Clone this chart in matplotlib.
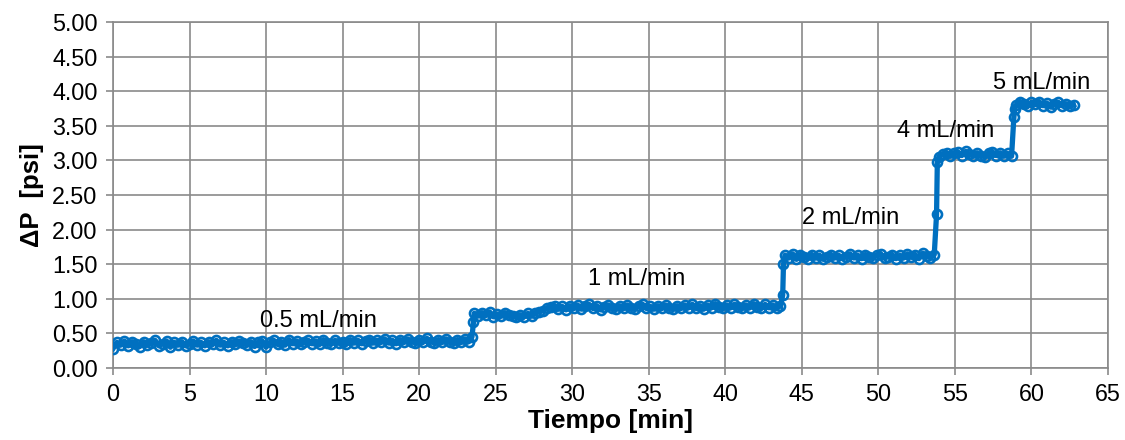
import numpy as np
import matplotlib
matplotlib.use("Agg")
import matplotlib.pyplot as plt

plt.rcParams['font.family'] = ['Liberation Sans', 'DejaVu Sans']

# ---- data (time in min, pressure drop in psi) ----
seg1_start, seg2_start, seg3_start, seg4_start, seg5_start = 0.0, 23.6, 43.9, 53.95, 59.0
step = 0.25

seg1_vals = [0.28, 0.37, 0.33, 0.39, 0.32, 0.38, 0.35, 0.31, 0.38, 0.33,
             0.36, 0.40, 0.32, 0.35, 0.39, 0.30, 0.37, 0.33, 0.38, 0.32,
             0.35, 0.39, 0.33, 0.37, 0.32, 0.38, 0.34, 0.40, 0.33, 0.37,
             0.32, 0.38, 0.34, 0.39, 0.36, 0.33, 0.38, 0.31, 0.37, 0.39,
             0.30, 0.37, 0.40, 0.34, 0.38, 0.33, 0.41, 0.35, 0.39, 0.34,
             0.37, 0.40, 0.35, 0.39, 0.34, 0.41, 0.36, 0.35, 0.40, 0.36,
             0.38, 0.35, 0.41, 0.36, 0.40, 0.35, 0.39, 0.41, 0.36, 0.40,
             0.37, 0.42, 0.36, 0.40, 0.35, 0.41, 0.37, 0.42, 0.38, 0.36,
             0.41, 0.37, 0.43, 0.38, 0.36, 0.41, 0.37, 0.42, 0.38, 0.36,
             0.41, 0.37, 0.42, 0.38]
jump1_t, jump1_v = [23.45, 23.55], [0.45, 0.66]

seg2_vals = [0.79, 0.75, 0.80, 0.76, 0.81, 0.74, 0.78, 0.75, 0.80, 0.76,
             0.75, 0.73, 0.77, 0.74, 0.79, 0.75, 0.80, 0.81, 0.83, 0.86,
             0.88, 0.90, 0.85, 0.89, 0.84, 0.90, 0.86, 0.91, 0.85, 0.89,
             0.92, 0.86, 0.90, 0.84, 0.88, 0.91, 0.86, 0.85, 0.90, 0.86,
             0.91, 0.87, 0.85, 0.90, 0.92, 0.86, 0.89, 0.85, 0.90, 0.86,
             0.91, 0.87, 0.85, 0.90, 0.86, 0.91, 0.87, 0.92, 0.86, 0.90,
             0.85, 0.91, 0.87, 0.93, 0.88, 0.86, 0.91, 0.87, 0.92, 0.88,
             0.86, 0.91, 0.87, 0.93, 0.88, 0.86, 0.92, 0.87, 0.91, 0.86,
             0.90]
jump2_t, jump2_v = [43.75, 43.8], [1.05, 1.50]

seg3_vals = [1.63, 1.59, 1.65, 1.57, 1.64, 1.60, 1.58, 1.64, 1.59, 1.63,
             1.57, 1.61, 1.64, 1.59, 1.63, 1.58, 1.61, 1.65, 1.59, 1.63,
             1.58, 1.64, 1.60, 1.59, 1.63, 1.65, 1.59, 1.61, 1.64, 1.58,
             1.63, 1.59, 1.65, 1.60, 1.64, 1.58, 1.66, 1.62, 1.59, 1.64]
jump3_t, jump3_v = [53.8, 53.85], [2.22, 2.97]

seg4_vals = [3.05, 3.09, 3.11, 3.06, 3.10, 3.12, 3.07, 3.13, 3.09, 3.06,
             3.11, 3.07, 3.05, 3.10, 3.12, 3.07, 3.11, 3.06, 3.10, 3.06]
jump4_t, jump4_v = [58.85, 58.9], [3.62, 3.74]

seg5_vals = [3.80, 3.85, 3.82, 3.78, 3.84, 3.81, 3.85, 3.79, 3.83, 3.77,
             3.81, 3.84, 3.79, 3.82, 3.78, 3.80]

labels = ["0.5 mL/min", "1 mL/min", "2 mL/min", "4 mL/min", "5 mL/min"]
label_x = [13.4, 34.2, 48.2, 54.4, 60.65]
label_y = [0.68, 1.29, 2.17, 3.42, 4.12]

x_ticks = list(range(0, 70, 5))
y_ticks = [0.0, 0.5, 1.0, 1.5, 2.0, 2.5, 3.0, 3.5, 4.0, 4.5, 5.0]


def seg_times(start, vals):
    return list(start + step * np.arange(len(vals)))


t = (seg_times(seg1_start, seg1_vals) + jump1_t +
     seg_times(seg2_start, seg2_vals) + jump2_t +
     seg_times(seg3_start, seg3_vals) + jump3_t +
     seg_times(seg4_start, seg4_vals) + jump4_t +
     seg_times(seg5_start, seg5_vals))
p = (seg1_vals + jump1_v + seg2_vals + jump2_v + seg3_vals + jump3_v +
     seg4_vals + jump4_v + seg5_vals)

fig = plt.figure(figsize=(11.25, 4.4), dpi=100)
ax = fig.add_axes([113 / 1125, 1 - 368 / 440, (1108 - 113) / 1125, (368 - 22) / 440])

blue = '#0070C0'
ax.plot(t, p, color=blue, lw=3.8, marker='o', ms=6.5, mfc='none', mec=blue, mew=1.9,
        zorder=3, solid_joinstyle='round')

for s, x, y in zip(labels, label_x, label_y):
    ax.text(x, y, s, fontsize=17, ha='center', va='center', color='black', zorder=4)

ax.set_xlim(0, 65)
ax.set_ylim(0, 5)
ax.set_xticks(x_ticks)
ax.set_yticks(y_ticks)
ax.set_yticklabels([f"{v:.2f}" for v in y_ticks])
ax.grid(True, color='#8a8a8a', lw=1.2, zorder=0)
ax.set_axisbelow(True)
for sp in ax.spines.values():
    sp.set_color('#8a8a8a')
    sp.set_linewidth(1.2)
ax.tick_params(axis='both', labelsize=16.8, color='#8a8a8a', width=1.2, length=5, pad=6)

ax.set_xlabel("Tiempo [min]", fontsize=19, fontweight='bold', labelpad=2)
ax.set_ylabel("ΔP  [psi]", fontsize=18.5, fontweight='bold', labelpad=6)

fig.savefig("out.png", dpi=100)
